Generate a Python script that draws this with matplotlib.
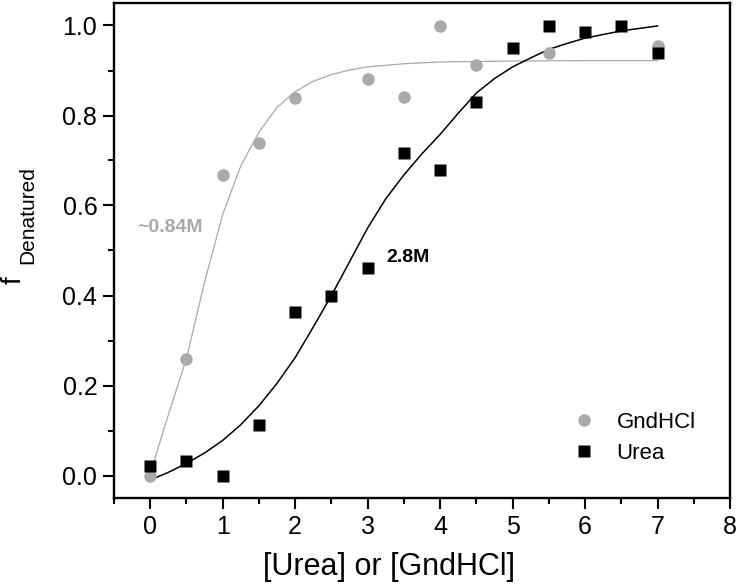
import numpy as np
import matplotlib
matplotlib.use('Agg')
import matplotlib.pyplot as plt
from matplotlib.ticker import MultipleLocator, FormatStrFormatter

plt.rcParams['font.family'] = ['Liberation Sans', 'DejaVu Sans']

# measured points
gnd_x = [0, 0.5, 1, 1.5, 2, 3, 3.5, 4, 4.5, 5.5, 7]
gnd_y = [0.0, 0.258, 0.667, 0.738, 0.84, 0.882, 0.842, 1.0, 0.913, 0.94, 0.955]

urea_x = [0, 0.5, 1, 1.5, 2, 2.5, 3, 3.5, 4, 4.5, 5, 5.5, 6, 6.5, 7]
urea_y = [0.022, 0.033, 0.0, 0.112, 0.363, 0.398, 0.462, 0.717, 0.678,
          0.831, 0.949, 1.0, 0.985, 1.0, 0.94]

# fitted curves
gnd_fit_x = [0, 0.25, 0.5, 0.75, 1.0, 1.25, 1.5, 1.75, 2.0, 2.25, 2.5,
             2.75, 3.0, 3.5, 4.0, 5.0, 6.0, 7.0]
gnd_fit_y = [0.005, 0.135, 0.26, 0.43, 0.58, 0.688, 0.763, 0.818, 0.853,
             0.876, 0.891, 0.901, 0.908, 0.915, 0.919, 0.921, 0.922, 0.922]

urea_fit_x = [0, 0.25, 0.5, 0.75, 1.0, 1.25, 1.5, 1.75, 2.0, 2.25, 2.5,
              2.75, 3.0, 3.25, 3.5, 3.75, 4.0, 4.25, 4.5, 4.75, 5.0, 5.25,
              5.5, 5.75, 6.0, 6.5, 7.0]
urea_fit_y = [-0.01, 0.007, 0.027, 0.05, 0.078, 0.113, 0.155, 0.205, 0.262,
              0.33, 0.40, 0.475, 0.55, 0.615, 0.668, 0.715, 0.758, 0.805,
              0.85, 0.882, 0.908, 0.928, 0.947, 0.96, 0.972, 0.988, 0.999]

grey = '#a9a9a9'

fig = plt.figure(figsize=(7.37, 5.84), dpi=100)
ax = fig.add_axes([114/737, (584-498)/584, (730-114)/737, (498-3)/584])

ax.plot(gnd_fit_x, gnd_fit_y, color=grey, lw=0.9, zorder=1)
ax.plot(urea_fit_x, urea_fit_y, color='black', lw=1.1, zorder=1)
ax.plot(gnd_x, gnd_y, 'o', color=grey, ms=9, mec='none', label='GndHCl', zorder=2)
ax.plot(urea_x, urea_y, 's', color='black', ms=8, mec='none', label='Urea', zorder=3)

ax.text(-0.18, 0.551, '~0.84M', color=grey, fontsize=14, fontweight='bold', va='center')
ax.text(3.26, 0.485, '2.8M', color='black', fontsize=14, fontweight='bold', va='center')

ax.set_xlim(-0.5, 8)
ax.set_ylim(-0.05, 1.05)
ax.xaxis.set_major_locator(MultipleLocator(1))
ax.xaxis.set_minor_locator(MultipleLocator(0.5))
ax.yaxis.set_major_locator(MultipleLocator(0.2))
ax.yaxis.set_minor_locator(MultipleLocator(0.1))
ax.yaxis.set_major_formatter(FormatStrFormatter('%.1f'))

ax.tick_params(which='major', direction='out', length=8, width=1.5, labelsize=18, pad=4)
ax.tick_params(which='minor', direction='out', length=4.5, width=1.5)
for s in ax.spines.values():
    s.set_linewidth(1.7)

# x label sits a bit left of the axes centre in the original
fig.text(389/737, 1 - 567/584, '[Urea] or [GndHCl]', fontsize=22, ha='center', va='center')

# y label: big f with a subscript almost the same size
fig.text(21/737, 1 - 284/584, 'f', fontsize=20, rotation=90,
         rotation_mode='anchor', ha='left', va='baseline')
fig.text(33.5/737, 1 - 264/584, 'Denatured', fontsize=15, rotation=90,
         rotation_mode='anchor', ha='left', va='baseline')

ax.legend(loc='center left', bbox_to_anchor=(0.733, 0.122), frameon=False,
          fontsize=16, handlelength=0.9, handletextpad=1.0, labelspacing=0.45,
          borderaxespad=0)

fig.savefig('out.png', dpi=100)
